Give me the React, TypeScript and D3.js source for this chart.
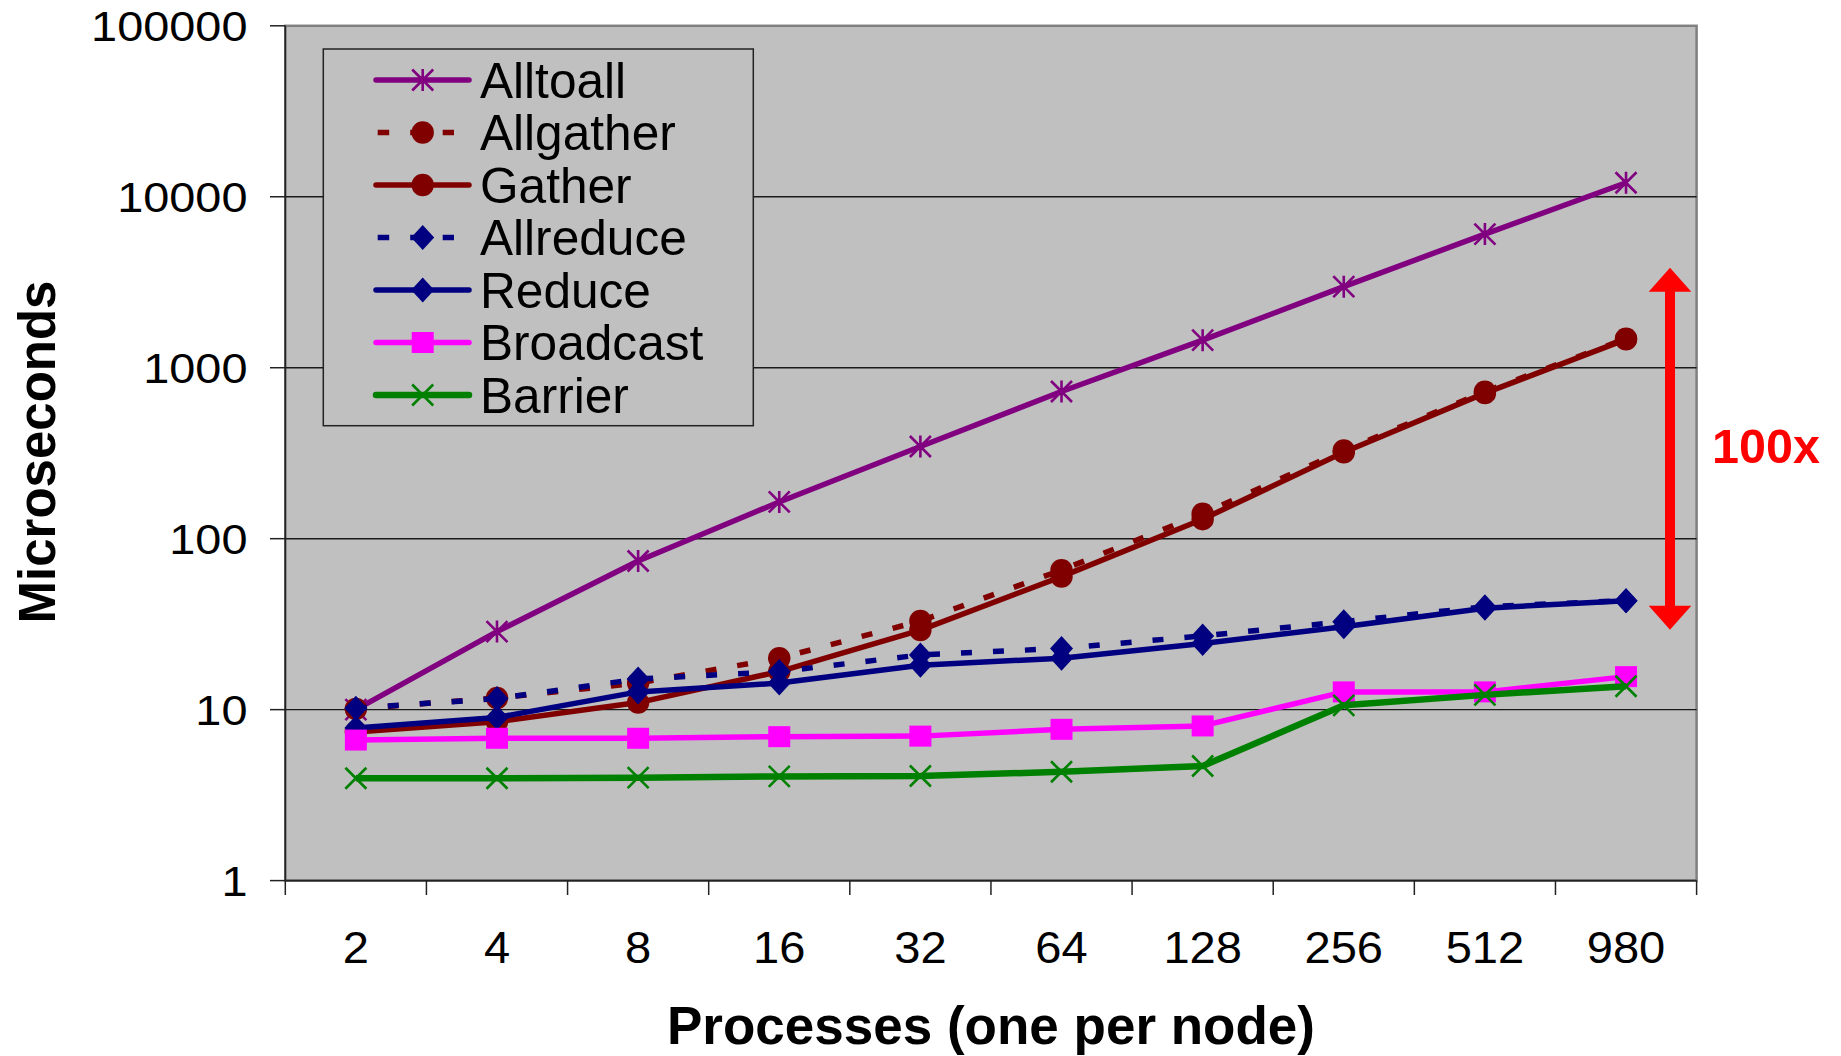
import React from "react";
import * as d3 from "d3";

const categories = ["2", "4", "8", "16", "32", "64", "128", "256", "512", "980"];
const alltoall = [10, 28.6, 74, 164, 346, 726, 1450, 2980, 6050, 12080];
const allgather = [10.1, 11.7, 14.3, 20, 33, 65.5, 140, 328, 725, 1480];
const gather = [7.4, 8.5, 11, 16.7, 29.2, 60, 130, 320, 710, 1465];
const allreduce = [10.2, 11.6, 15.1, 16.7, 20.9, 22.8, 27, 32.7, 40, 43.4];
const reduce = [7.8, 9.0, 12.7, 14.3, 18.2, 20, 24.4, 30.5, 39.2, 43.4];
const broadcast = [6.64, 6.8, 6.8, 6.95, 7.0, 7.67, 8.03, 12.7, 12.7, 15.6];
const barrier = [3.97, 3.97, 4.0, 4.07, 4.09, 4.33, 4.68, 10.6, 12.2, 13.7];
const yTicks = [1, 10, 100, 1000, 10000, 100000];
const seriesNames = ["Alltoall", "Allgather", "Gather", "Allreduce", "Reduce", "Broadcast", "Barrier"];
const arrowSpan = [29.3, 3850];

type Marker = "asterisk" | "circle" | "diamond" | "square" | "x";
interface Series { name: string; values: number[]; color: string; dashed: boolean; marker: Marker; width: number; }

const seriesList: Series[] = [
  { name: seriesNames[0], values: alltoall, color: "#800080", dashed: false, marker: "asterisk", width: 5.5 },
  { name: seriesNames[1], values: allgather, color: "#800000", dashed: true, marker: "circle", width: 5.5 },
  { name: seriesNames[2], values: gather, color: "#800000", dashed: false, marker: "circle", width: 5.5 },
  { name: seriesNames[3], values: allreduce, color: "#000080", dashed: true, marker: "diamond", width: 5.5 },
  { name: seriesNames[4], values: reduce, color: "#000080", dashed: false, marker: "diamond", width: 5.5 },
  { name: seriesNames[5], values: broadcast, color: "#FF00FF", dashed: false, marker: "square", width: 5.5 },
  { name: seriesNames[6], values: barrier, color: "#008000", dashed: false, marker: "x", width: 6.5 },
];

const W = 1841, H = 1056;
const L = 285.3, R = 1696.6, T = 25.8, B = 880.6;
const FONT = "'Liberation Sans', Arial, sans-serif";

function MarkerShape({ m, x, y, color }: { m: Marker; x: number; y: number; color: string }) {
  switch (m) {
    case "circle":
      return <circle cx={x} cy={y} r={11.2} fill={color} />;
    case "diamond":
      return <path d={`M${x},${y - 12.5}L${x + 11.5},${y}L${x},${y + 12.5}L${x - 11.5},${y}Z`} fill={color} />;
    case "square":
      return <rect x={x - 11} y={y - 10.5} width={22} height={21} fill={color} />;
    case "x":
      return <path d={`M${x - 10.5},${y - 10.5}L${x + 10.5},${y + 10.5}M${x - 10.5},${y + 10.5}L${x + 10.5},${y - 10.5}`} stroke={color} strokeWidth={2.6} fill="none" />;
    case "asterisk":
      return <path d={`M${x - 10.5},${y - 10.5}L${x + 10.5},${y + 10.5}M${x - 10.5},${y + 10.5}L${x + 10.5},${y - 10.5}M${x},${y - 11}L${x},${y + 11}`} stroke={color} strokeWidth={2.6} fill="none" />;
  }
  return null;
}

export default function App() {
  const x = d3.scaleBand<string>().domain(categories).range([L, R]);
  const y = d3.scaleLog().domain([1, 100000]).range([B, T]);
  const cx = (c: string) => (x(c) as number) + x.bandwidth() / 2;
  const line = d3.line<number>().x((_, i) => cx(categories[i])).y((v) => y(v));
  const boundaries = d3.range(categories.length + 1).map((i) => L + i * x.bandwidth());

  const legendX = 323.3, legendY = 49, legendW = 430, legendH = 376.7;
  const rowY0 = 80, rowStep = 52.5;

  const arrowX = 1670;
  const aTop = y(arrowSpan[1]), aBot = y(arrowSpan[0]);
  const head = 24, hw = 21.3, sw = 5;

  return (
    <svg width={W} height={H} style={{ position: "absolute", left: 0, top: 0, background: "#fff" }} fontFamily={FONT}>
      <rect x={0} y={0} width={W} height={H} fill="#fff" />
      {/* plot area */}
      <rect x={L} y={T} width={R - L} height={B - T} fill="#C0C0C0" stroke="#808080" strokeWidth={2.5} />
      {yTicks.slice(1, -1).map((t) => (
        <line key={t} x1={L} x2={R} y1={y(t)} y2={y(t)} stroke="#1a1a1a" strokeWidth={1.4} />
      ))}
      {/* axes */}
      <line x1={L} x2={L} y1={T} y2={B} stroke="#222" strokeWidth={1.6} />
      <line x1={L} x2={R} y1={B} y2={B} stroke="#222" strokeWidth={1.6} />
      {yTicks.map((t) => (
        <g key={t}>
          <line x1={270} x2={L} y1={y(t)} y2={y(t)} stroke="#222" strokeWidth={1.5} />
          <text transform={`translate(247.5,${y(t) + 15.5}) scale(1.09,1)`} textAnchor="end" fontSize={43} fill="#000">{t}</text>
        </g>
      ))}
      {boundaries.map((bx, i) => (
        <line key={i} x1={bx} x2={bx} y1={B} y2={895} stroke="#222" strokeWidth={1.5} />
      ))}
      {categories.map((c) => (
        <text key={c} transform={`translate(${cx(c)},963) scale(1.07,1)`} textAnchor="middle" fontSize={44} fill="#000">{c}</text>
      ))}
      {/* series */}
      {seriesList.map((s) => (
        <g key={s.name}>
          <path d={line(s.values) as string} fill="none" stroke={s.color} strokeWidth={s.width}
            strokeDasharray={s.dashed ? "11 21" : undefined} strokeLinejoin="round" />
          {s.values.map((v, i) => (
            <MarkerShape key={i} m={s.marker} x={cx(categories[i])} y={y(v)} color={s.color} />
          ))}
        </g>
      ))}
      {/* legend */}
      <rect x={legendX} y={legendY} width={legendW} height={legendH} fill="#C0C0C0" stroke="#222" strokeWidth={1.5} />
      {seriesList.map((s, i) => {
        const ry = rowY0 + i * rowStep;
        return (
          <g key={s.name}>
            <line x1={s.dashed ? 377.7 : 376} x2={s.dashed ? 454 : 469} y1={ry} y2={ry} stroke={s.color}
              strokeWidth={s.width} strokeDasharray={s.dashed ? "11.5 21" : undefined} strokeLinecap={s.dashed ? "butt" : "round"} />
            <MarkerShape m={s.marker} x={422.7} y={ry} color={s.color} />
            <text x={480} y={ry + 17.8} fontSize={49.6} fill="#000">{s.name}</text>
          </g>
        );
      })}
      {/* 100x annotation */}
      <path
        d={`M${arrowX},${aTop}L${arrowX + hw},${aTop + head}L${arrowX + sw},${aTop + head}L${arrowX + sw},${aBot - head}L${arrowX + hw},${aBot - head}L${arrowX},${aBot}L${arrowX - hw},${aBot - head}L${arrowX - sw},${aBot - head}L${arrowX - sw},${aTop + head}L${arrowX - hw},${aTop + head}Z`}
        fill="#FF0000"
      />
      <text x={1712} y={463} fontSize={48.5} fontWeight="bold" fill="#FF0000">100x</text>
      {/* titles */}
      <text x={991} y={1044} textAnchor="middle" fontSize={53} fontWeight="bold" fill="#000">Processes (one per node)</text>
      <text transform="translate(55,452) rotate(-90)" textAnchor="middle" fontSize={51} fontWeight="bold" fill="#000">Microseconds</text>
    </svg>
  );
}
